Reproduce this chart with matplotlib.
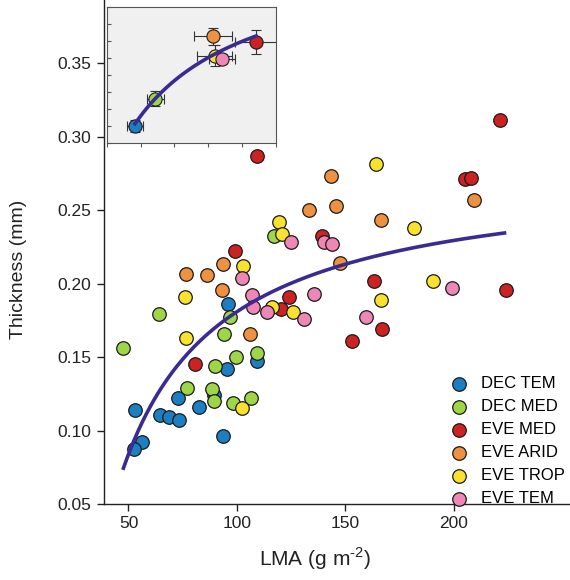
import numpy as np
import matplotlib
matplotlib.use("Agg")
import matplotlib.pyplot as plt

plt.rcParams['font.family'] = ['Liberation Sans', 'DejaVu Sans']
plt.rcParams['mathtext.fontset'] = 'custom'
plt.rcParams['mathtext.rm'] = 'Liberation Sans'

# --- data (LMA g m-2, thickness mm) ---
groups = ["DEC TEM", "DEC MED", "EVE MED", "EVE ARID", "EVE TROP", "EVE TEM"]
colors = ["#1b7fc2", "#9fd647", "#cc2222", "#ef9140", "#f9e12f", "#ee86b6"]

dec_tem_lma = [96.1, 95.5, 109.1, 73.0, 89.3, 53.1, 64.4, 68.6, 73.2, 82.7, 93.8, 56.3, 52.4]
dec_tem_thk = [0.186, 0.1416, 0.147, 0.122, 0.124, 0.114, 0.1108, 0.109, 0.107, 0.1158,
               0.0965, 0.092, 0.0874]

dec_med_lma = [117.0, 97.0, 64.0, 94.2, 47.4, 89.8, 99.5, 109.4, 76.9, 88.7, 89.5, 98.1, 106.4]
dec_med_thk = [0.2325, 0.1774, 0.179, 0.166, 0.156, 0.144, 0.1498, 0.1525, 0.129, 0.128,
               0.120, 0.119, 0.122]

eve_med_lma = [109.2, 139.2, 99.3, 124.2, 120.4, 221.4, 205.3, 208.0, 163.5, 224.3, 167.0,
               153.2, 80.5]
eve_med_thk = [0.287, 0.232, 0.2223, 0.191, 0.1824, 0.311, 0.271, 0.2718, 0.2015, 0.1954,
               0.169, 0.161, 0.1454]

eve_arid_lma = [143.5, 133.5, 145.8, 93.8, 76.7, 86.3, 147.4, 93.3, 106.1, 209.3, 166.3]
eve_arid_thk = [0.273, 0.250, 0.253, 0.2135, 0.2065, 0.206, 0.214, 0.1956, 0.1654, 0.257, 0.243]

eve_trop_lma = [119.4, 120.8, 103.0, 76.1, 116.4, 125.7, 76.7, 164.0, 181.8, 190.4, 166.7, 102.4]
eve_trop_thk = [0.242, 0.234, 0.212, 0.191, 0.184, 0.1806, 0.163, 0.281, 0.2378, 0.2017,
                0.189, 0.115]

eve_tem_lma = [125.0, 140.0, 144.1, 102.5, 107.1, 135.7, 107.3, 113.9, 131.0, 199.2, 159.4]
eve_tem_thk = [0.228, 0.228, 0.227, 0.204, 0.192, 0.193, 0.184, 0.1806, 0.1757, 0.197, 0.177]

lma = [dec_tem_lma, dec_med_lma, eve_med_lma, eve_arid_lma, eve_trop_lma, eve_tem_lma]
thk = [dec_tem_thk, dec_med_thk, eve_med_thk, eve_arid_thk, eve_trop_thk, eve_tem_thk]

CURVE = "#3a2b94"


def hyperbola_fit(x, y):
    """least squares y = a + b/x, returned as a callable"""
    b, a = np.polyfit(1.0 / np.asarray(x), np.asarray(y), 1)
    return lambda v: a + b / v


fig = plt.figure(figsize=(5.7, 5.8), dpi=100)
ax = fig.add_axes([104 / 570, 76 / 580, 1 - 104 / 570, 1 - 76 / 580])

handles = []
for g, c, xs, ys in zip(groups, colors, lma, thk):
    h = ax.scatter(xs, ys, s=95, c=c, edgecolors="#1a1a1a", linewidths=0.9, zorder=3, label=g)
    handles.append(h)

all_x = np.concatenate([np.asarray(v) for v in lma])
all_y = np.concatenate([np.asarray(v) for v in thk])
f_all = hyperbola_fit(all_x, all_y)
xx = np.linspace(all_x.min(), all_x.max(), 200)
ax.plot(xx, f_all(xx), color=CURVE, lw=2.6, zorder=4, solid_capstyle="butt")

ax.set_xlim(38.7, 253.7)
ax.set_ylim(0.05, 0.3929)
ax.set_xticks([50, 100, 150, 200])
ax.set_yticks(np.arange(0.05, 0.351, 0.05))
ax.yaxis.set_major_formatter(plt.FormatStrFormatter("%.2f"))
ax.tick_params(labelsize=12.5, length=5, width=1, colors="#222222", pad=4)
for s in ["top", "right"]:
    ax.spines[s].set_visible(False)
for s in ["left", "bottom"]:
    ax.spines[s].set_linewidth(1.0)
    ax.spines[s].set_color("#222222")
ax.set_xlabel("LMA (g m$^{\\text{-2}}$)", fontsize=15, color="#222222")
ax.xaxis.set_label_coords(0.453, -0.082)
ax.set_ylabel("Thickness (mm)", fontsize=14, color="#222222")
ax.yaxis.set_label_coords(-0.165, 0.465)

fig.legend(handles=handles, loc="upper left", bbox_to_anchor=(450.7 / 570, (580 - 376) / 580),
           frameon=False, fontsize=12, handlelength=1.0, handletextpad=0.8,
           labelspacing=0.48, borderpad=0, borderaxespad=0)

# --- inset: group means +/- SE ---
axi = fig.add_axes([106.7 / 570, (580 - 142.5) / 580, 169.3 / 570, 135.5 / 580],
                   facecolor="#f0f0f0")
mx = np.array([np.mean(v) for v in lma])
my = np.array([np.mean(v) for v in thk])
ex = np.array([np.std(v, ddof=1) / np.sqrt(len(v)) for v in lma])
ey = np.array([np.std(v, ddof=1) / np.sqrt(len(v)) for v in thk])
for i, c in enumerate(colors):
    axi.errorbar(mx[i], my[i], xerr=ex[i], yerr=ey[i], fmt="o", ms=9.5, mfc=c, mec="#1a1a1a",
                 mew=0.8, ecolor="#333333", elinewidth=0.8, capsize=3.5, capthick=0.8, zorder=3)
f_mean = hyperbola_fit(mx, my)
xm = np.linspace(mx.min(), mx.max(), 200)
axi.plot(xm, f_mean(xm), color=CURVE, lw=2.6, zorder=4)
axi.set_xlim(59.4, 167.8)
axi.set_ylim(0.10, 0.26)
axi.set_xticks(np.linspace(59.4, 167.8, 6))
axi.set_yticks(np.arange(0.10, 0.261, 0.02))
axi.tick_params(axis="x", direction="out", length=3, width=0.8, colors="#555555",
                labelbottom=False)
axi.tick_params(axis="y", direction="in", length=3, width=0.8, colors="#555555",
                labelleft=False)
for s in axi.spines.values():
    s.set_color("#555555")
    s.set_linewidth(0.8)

fig.savefig("out.png", dpi=100)
